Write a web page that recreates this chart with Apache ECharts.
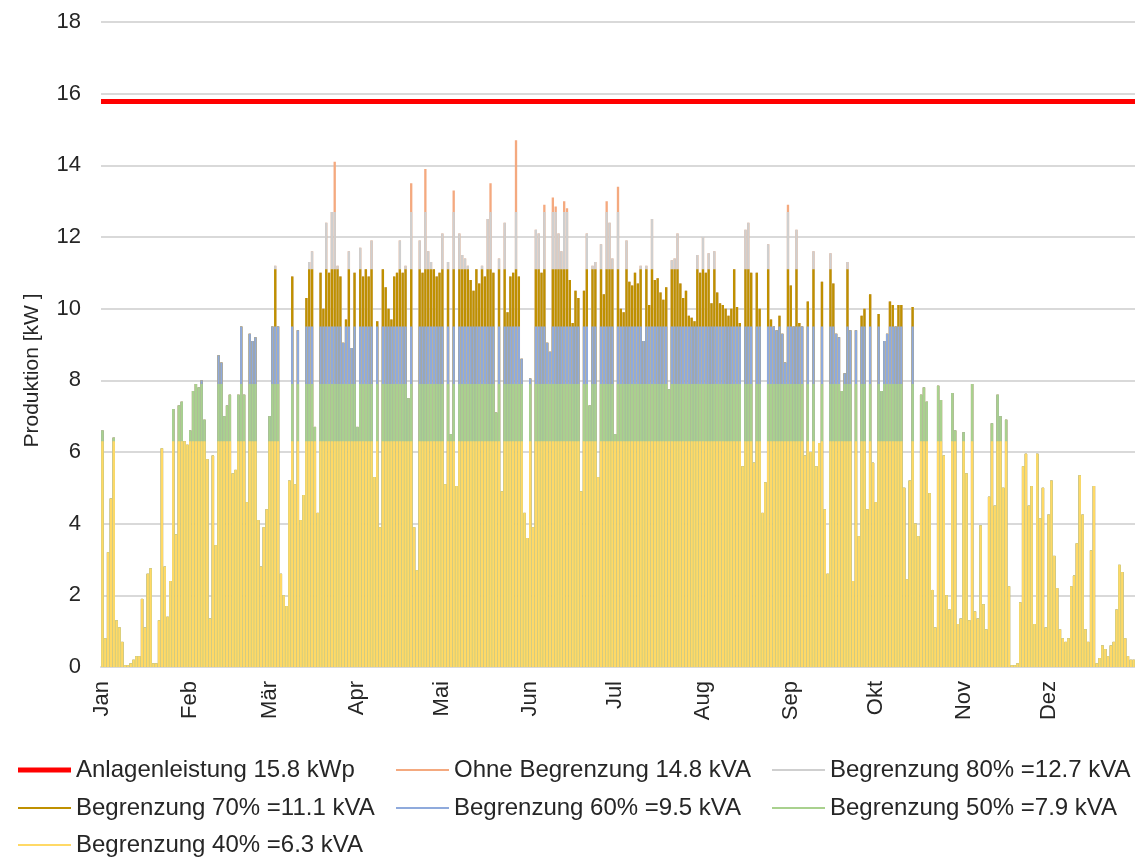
<!DOCTYPE html>
<html>
<head>
    <meta charset="utf-8">
    <title>Produktion und Begrenzung</title>
    <script src="https://cdn.jsdelivr.net/npm/echarts@6/dist/echarts.min.js"></script>
    <style>
        html, body { margin: 0; padding: 0; background: #fff; }
    </style>
</head>
<body>
    <div id="main" style="width: 1135px;height:857px;"></div>
    <script type="text/javascript">
        var monthNames = ['Jan', 'Feb', 'Mär', 'Apr', 'Mai', 'Jun', 'Jul', 'Aug', 'Sep', 'Okt', 'Nov', 'Dez'];

        // Tagesspitzen ohne Begrenzung [kW]
        var peakJan = [6.6, 0.8, 3.2, 4.7, 6.4, 1.3, 1.1, 0.7, 0.05, 0.05, 0.1, 0.2, 0.3, 0.3, 1.9, 1.1, 2.6, 2.75, 0.1, 0.1, 1.3, 6.1, 2.8, 1.4, 2.4, 7.2, 3.7, 7.3, 7.4, 6.3, 6.2];
        var peakFeb = [6.6, 7.7, 7.9, 7.8, 8.0, 6.9, 5.8, 1.35, 5.9, 3.4, 8.7, 8.5, 7.0, 7.3, 7.6, 5.4, 5.5, 7.6, 9.5, 7.6, 4.6, 9.3, 9.1, 9.2, 4.1, 2.8, 3.9, 4.4];
        var peakMar = [7.0, 9.5, 11.2, 9.5, 2.6, 2.0, 1.7, 5.2, 10.9, 5.1, 9.4, 4.1, 4.8, 10.3, 11.3, 11.6, 6.7, 4.3, 11.0, 10.0, 12.4, 11.0, 12.7, 14.1, 11.2, 10.9, 9.05, 9.7, 11.6, 8.9, 11.0];
        var peakApr = [6.7, 11.7, 10.9, 11.1, 10.9, 11.9, 5.3, 9.65, 3.9, 11.1, 10.6, 10.0, 9.7, 10.9, 11.0, 11.9, 11.0, 11.2, 7.5, 13.5, 3.9, 2.7, 11.9, 11.0, 13.9, 11.6, 11.3, 11.1, 10.9, 11.0];
        var peakMai = [12.1, 5.1, 11.3, 6.5, 13.3, 5.05, 12.1, 11.5, 11.4, 11.2, 10.8, 10.5, 11.1, 10.7, 11.2, 10.9, 12.5, 13.5, 11.0, 7.1, 11.4, 4.9, 12.4, 9.9, 10.9, 11.0, 14.7, 10.9, 8.6, 4.3, 3.6];
        var peakJun = [8.05, 3.9, 12.2, 12.1, 11.0, 12.9, 9.05, 8.8, 13.1, 12.85, 12.1, 11.6, 13.0, 12.8, 10.8, 9.6, 10.5, 10.3, 4.9, 10.5, 12.1, 7.3, 11.2, 11.3, 5.3, 11.8, 10.4, 13.0, 12.4, 11.4];
        var peakJul = [6.5, 13.4, 10.0, 9.9, 11.9, 10.75, 10.65, 11.0, 10.7, 11.2, 9.1, 11.2, 10.1, 12.5, 10.8, 10.85, 10.45, 10.25, 10.6, 7.75, 11.35, 11.4, 12.1, 10.7, 10.3, 10.5, 9.8, 9.75, 9.65, 11.5, 11.0];
        var peakAug = [12.0, 11.0, 11.55, 10.15, 11.6, 10.45, 10.15, 10.1, 10.0, 9.8, 10.0, 11.1, 10.05, 9.6, 5.6, 12.2, 12.4, 11.0, 5.7, 11.0, 10.0, 4.3, 5.15, 11.8, 9.7, 9.5, 9.4, 9.8, 9.3, 8.5, 12.9];
        var peakSep = [10.65, 9.5, 12.2, 9.6, 9.5, 5.9, 10.2, 6.0, 11.6, 5.6, 6.25, 10.75, 4.4, 2.6, 11.55, 10.7, 9.3, 9.2, 7.7, 8.2, 11.3, 9.4, 2.4, 9.4, 3.65, 9.8, 10.0, 4.4, 10.4, 5.7];
        var peakOkt = [4.6, 9.85, 7.7, 9.1, 9.3, 10.2, 10.1, 9.5, 10.1, 10.1, 5.0, 2.45, 5.2, 10.05, 4.0, 3.65, 7.6, 7.8, 7.4, 4.85, 2.15, 1.1, 7.85, 7.45, 5.9, 2.0, 1.6, 7.65, 6.6, 1.2, 1.35];
        var peakNov = [6.55, 5.4, 1.3, 7.9, 1.55, 1.35, 3.95, 1.75, 1.05, 4.75, 6.8, 4.5, 7.6, 7.0, 5.0, 6.9, 2.25, 0.05, 0.05, 0.1, 1.8, 5.6, 5.95, 4.5, 5.05, 1.2, 5.95, 4.15, 5.0, 1.1];
        var peakDez = [4.25, 5.2, 3.1, 2.2, 1.05, 0.8, 0.7, 0.8, 2.25, 2.55, 3.45, 5.35, 4.25, 1.05, 0.7, 3.25, 5.05, 0.1, 0.25, 0.6, 0.5, 0.3, 0.6, 0.7, 1.6, 2.85, 2.65, 0.8, 0.3, 0.2, 0.2];
        var peaksByMonth = [peakJan, peakFeb, peakMar, peakApr, peakMai, peakJun, peakJul, peakAug, peakSep, peakOkt, peakNov, peakDez];

        var capacityName = 'Anlagenleistung 15.8 kWp';
        var capacityKWp = 15.8;
        // Begrenzungsstufen: null = ohne Begrenzung
        var seriesNames = ['Ohne Begrenzung 14.8 kVA', 'Begrenzung 80% =12.7 kVA', 'Begrenzung 70% =11.1 kVA',
            'Begrenzung 60% =9.5 kVA', 'Begrenzung 50% =7.9 kVA', 'Begrenzung 40% =6.3 kVA'];
        var limitsKVA = [null, 12.7, 11.1, 9.5, 7.9, 6.3];
        var seriesColors = ['#F4A97F', '#CFCFCF', '#BF9000', '#8FAADC', '#A9D18E', '#FFD966'];

        var days = [];
        var peaks = [];
        peaksByMonth.forEach(function (arr, m) {
            arr.forEach(function (v, i) {
                days.push((i + 1) + '.' + (m + 1) + '.');
                peaks.push(v);
            });
        });

        var lineIcon = 'path://M0,0L0,20M0,9H53V11H0Z';
        var thickIcon = 'path://M0,0L0,20M0,7.5H53V12.5H0Z';
        var textColor = '#262626';

        var series = [{
            name: capacityName,
            type: 'bar',
            data: [],
            itemStyle: { color: '#FF0000' },
            markLine: {
                silent: true,
                symbol: 'none',
                label: { show: false },
                lineStyle: { color: '#FF0000', width: 5, type: 'solid' },
                data: [{ yAxis: capacityKWp }]
            }
        }];
        seriesNames.forEach(function (name, k) {
            var lim = limitsKVA[k];
            series.push({
                name: name,
                type: 'bar',
                barGap: '-100%',
                barCategoryGap: '18%',
                itemStyle: { color: seriesColors[k] },
                emphasis: { disabled: true },
                data: peaks.map(function (v) { return lim === null ? v : Math.min(v, lim); })
            });
        });

        // ein Legendeneintrag pro Komponente, 3 Spalten x 3 Zeilen
        function legendItem(name, left, top) {
            return {
                left: left,
                top: top,
                padding: 0,
                itemWidth: 53,
                itemHeight: 20,
                selectedMode: false,
                itemStyle: { borderWidth: 0 },
                textStyle: { fontSize: 24, lineHeight: 24, color: textColor, fontFamily: 'Liberation Sans, Arial, sans-serif' },
                data: [{ name: name, icon: name === capacityName ? thickIcon : lineIcon }]
            };
        }

        var myChart = echarts.init(document.getElementById('main'));
        var option = {
            animation: false,
            textStyle: { fontFamily: 'Liberation Sans, Arial, sans-serif' },
            grid: { left: 101, right: -5, top: 22, bottom: 190 },
            legend: [
                legendItem(capacityName, 18, 758),
                legendItem(seriesNames[0], 396, 758),
                legendItem(seriesNames[1], 772, 758),
                legendItem(seriesNames[2], 18, 796),
                legendItem(seriesNames[3], 396, 796),
                legendItem(seriesNames[4], 772, 796),
                legendItem(seriesNames[5], 18, 833)
            ],
            xAxis: {
                type: 'category',
                data: days,
                axisLine: { lineStyle: { color: '#D9D9D9', width: 2 } },
                axisTick: { show: false },
                axisLabel: {
                    rotate: 90,
                    margin: 14,
                    fontSize: 22,
                    color: textColor,
                    interval: function (index, value) { return value.indexOf('1.') === 0; },
                    formatter: function (value) { return monthNames[parseInt(value.split('.')[1], 10) - 1]; }
                }
            },
            yAxis: {
                type: 'value',
                min: 0,
                max: 18,
                interval: 2,
                name: 'Produktion [kW ]',
                nameLocation: 'middle',
                nameGap: 58,
                nameTextStyle: { fontSize: 21, color: textColor, padding: [0, 52, 0, 0] },
                axisLine: { show: false },
                axisTick: { show: false },
                axisLabel: { fontSize: 22, color: textColor, margin: 20 },
                splitLine: { lineStyle: { color: '#D9D9D9', width: 2 } }
            },
            series: series
        };
        myChart.setOption(option);
    </script>
</body>
</html>
